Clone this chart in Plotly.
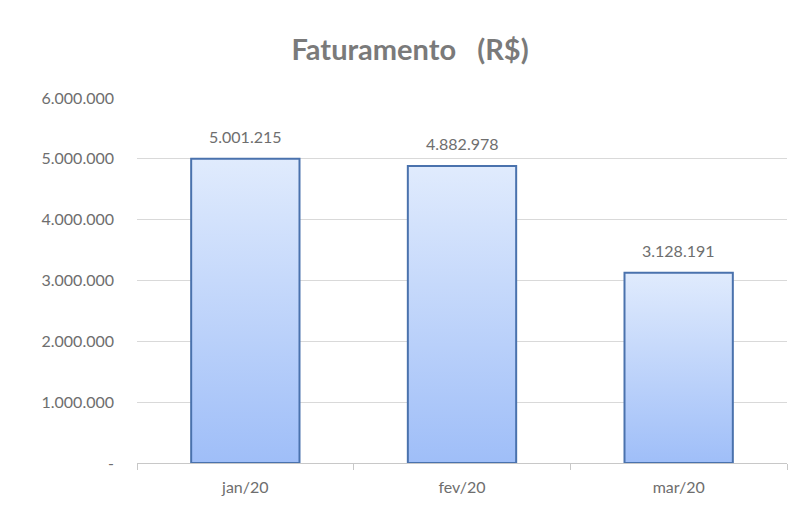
import plotly.graph_objects as go

meses = ['jan/20', 'fev/20', 'mar/20']
faturamento = [5001215, 4882978, 3128191]
y_ticks = [0, 1000000, 2000000, 3000000, 4000000, 5000000, 6000000]


def fmt(v):
    return '-' if v == 0 else f'{v:,}'.replace(',', '.')


fig = go.Figure()

# barras desenhadas como poligonos para ter o degrade vertical
largura = 0.5
for i, v in enumerate(faturamento):
    x0, x1 = i - largura / 2, i + largura / 2
    fig.add_trace(go.Scatter(
        x=[x0, x0, x1, x1, x0], y=[0, v, v, 0, 0],
        mode='lines', fill='toself',
        fillgradient=dict(type='vertical',
                          colorscale=[[0, '#9fbef8'], [1, '#e0ebfd']]),
        line=dict(color='#4a72ad', width=2),
        hoverinfo='skip', showlegend=False))

for i, v in enumerate(faturamento):
    fig.add_annotation(x=i, y=v, text=fmt(v), showarrow=False,
                       yanchor='bottom', yshift=11,
                       font=dict(size=16, color='#6e6e6e'))

fig.update_layout(
    width=800, height=512,
    margin=dict(l=129, r=21, t=90, b=57),
    paper_bgcolor='white', plot_bgcolor='white',
    font=dict(family='Lato, Open Sans, sans-serif', color='#6e6e6e'),
    title=dict(text='<b>Faturamento   (R$)</b>', x=0.5025, xanchor='center',
               y=0.918, yanchor='middle',
               font=dict(size=29, color='#7a7a7a')),
    showlegend=False,
)

fig.update_xaxes(
    range=[-0.5, 2.5], tickvals=[0, 1, 2], ticktext=meses,
    showgrid=False, zeroline=False, ticks='',
    showline=True, linecolor='#c8c8c8', linewidth=1,
    tickfont=dict(size=16, color='#6e6e6e'), ticklabelstandoff=10,
    minor=dict(tickvals=[-0.5, 0.5, 1.5, 2.5], ticks='outside',
               ticklen=6, tickcolor='#c8c8c8', showgrid=False),
)
fig.update_yaxes(
    range=[0, 6000000], tickvals=y_ticks, ticktext=[fmt(v) for v in y_ticks],
    showgrid=True, gridcolor='#d9d9d9', gridwidth=1, zeroline=False,
    ticks='', ticklabelstandoff=22,
    tickfont=dict(size=16, color='#6e6e6e'),
)

fig.write_html('out.html')
